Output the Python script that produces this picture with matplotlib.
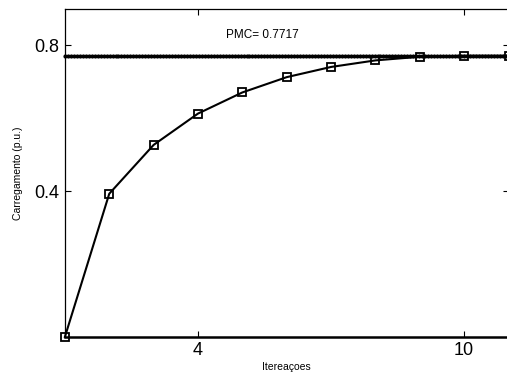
import numpy as np
import matplotlib
matplotlib.use('Agg')
import matplotlib.pyplot as plt

plt.rcParams['font.family'] = ['Liberation Sans', 'DejaVu Sans']

# dados
iteracoes = [1, 2, 3, 4, 5, 6, 7, 8, 9, 10, 11]
carregamento = [0.0, 0.393, 0.527, 0.613, 0.671, 0.713, 0.741, 0.759, 0.769, 0.7717, 0.7717]
pmc = 0.7717
xticks = [4, 10]
yticks = [0.4, 0.8]

fig = plt.figure(figsize=(5.07, 3.76), dpi=100)
ax = fig.add_axes([0.128, 0.104, 0.875, 0.872])

# linha do PMC (pontilhada grossa)
xs = np.linspace(iteracoes[0], iteracoes[-1], 150)
ax.plot(xs, [pmc] * len(xs), color='k', marker='.', markersize=4, lw=1.0, clip_on=False)

ax.plot(iteracoes, carregamento, color='k', lw=1.5, marker='s', markersize=6,
        markerfacecolor='none', markeredgecolor='k', markeredgewidth=1.3, clip_on=False, zorder=3)

ax.text(5.45, 0.83, 'PMC= ' + str(pmc), fontsize=8.5, ha='center', va='center')

ax.set_xlim(1, 11)
ax.set_ylim(0, 0.9)
ax.set_xticks(xticks)
ax.set_yticks(yticks)
ax.set_xticklabels([str(t) for t in xticks])
ax.set_yticklabels([str(t) for t in yticks])
ax.tick_params(direction='in', top=True, right=True, labelsize=13, length=4, width=0.8, pad=4)
ax.spines['bottom'].set_linewidth(1.8)
for s in ['left', 'top', 'right']:
    ax.spines[s].set_linewidth(0.9)

ax.set_xlabel('Itereaçoes', fontsize=7.5, labelpad=2)
ax.set_ylabel('Carregamento (p.u.)', fontsize=7.5, labelpad=8)

fig.savefig('out.png', dpi=100)
